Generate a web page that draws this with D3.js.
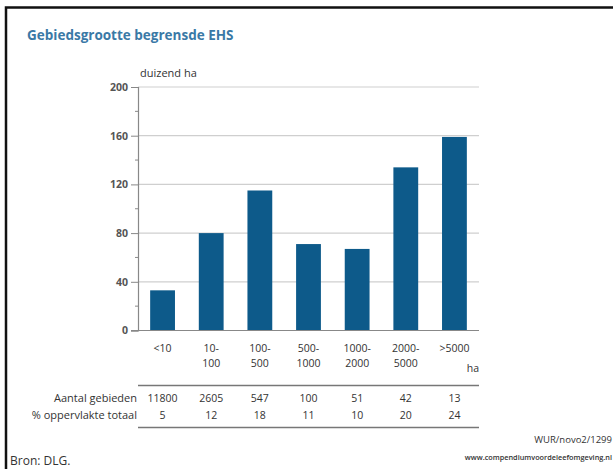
<!DOCTYPE html>
<html>
<head>
<meta charset="utf-8">
<script src="https://cdn.jsdelivr.net/npm/d3@7"></script>
<style>
  html, body { margin: 0; background: #fff; overflow: hidden; }
  svg { display: block; font-family: "Open Sans", sans-serif; }
</style>
</head>
<body>
<svg id="chart" width="613" height="469"></svg>
<script>
// data
const categories = ["<10", "10-100", "100-500", "500-1000", "1000-2000", "2000-5000", ">5000"];
const labelLines = [["<10"], ["10-", "100"], ["100-", "500"], ["500-", "1000"], ["1000-", "2000"], ["2000-", "5000"], [">5000"]];
const areaValues = [33, 80, 115, 71, 67, 134, 159];   // duizend ha
const aantalGebieden = ["11800", "2605", "547", "100", "51", "42", "13"];
const procentOppervlakte = ["5", "12", "18", "11", "10", "20", "24"];
const yTicks = [0, 40, 80, 120, 160, 200];

const svg = d3.select("#chart");

const plotLeft = 138, plotRight = 479, plotTop = 87, plotBottom = 330.5;

const x = d3.scaleBand()
    .domain(categories)
    .range([plotLeft, plotRight])
    .paddingInner(0.49)
    .paddingOuter(0.25);

const y = d3.scaleLinear()
    .domain([0, 200])
    .range([plotBottom, plotTop]);

// frame (top and left only)
svg.append("path")
    .attr("d", "M6,614V7.5H613")
    .attr("fill", "none")
    .attr("stroke", "#111")
    .attr("stroke-width", 2.5);

svg.append("text")
    .attr("x", 27)
    .attr("y", 40)
    .attr("fill", "#3a79a6")
    .attr("font-size", 13.5)
    .attr("font-weight", "bold")
    .text("Gebiedsgrootte begrensde EHS");

svg.append("text")
    .attr("x", 140)
    .attr("y", 77)
    .attr("fill", "#333")
    .attr("font-size", 11)
    .text("duizend ha");

// gridlines
svg.append("g")
    .selectAll("line")
    .data(yTicks.filter(d => d > 0))
    .join("line")
    .attr("x1", plotLeft)
    .attr("x2", plotRight)
    .attr("y1", d => y(d))
    .attr("y2", d => y(d))
    .attr("stroke", "#cfcfcf")
    .attr("stroke-width", 1.2);

// y axis with minor ticks
const yAxis = svg.append("g")
    .attr("transform", `translate(${plotLeft},0)`)
    .call(d3.axisLeft(y).tickValues(yTicks).tickSize(7).tickPadding(3));
yAxis.select(".domain").attr("stroke", "#888").attr("stroke-width", 1.2);
yAxis.selectAll(".tick line").attr("stroke", "#888");
yAxis.selectAll(".tick text")
    .attr("font-size", 10.5)
    .attr("font-weight", "bold")
    .attr("fill", "#555")
    .attr("font-family", "Open Sans, sans-serif");

svg.append("g")
    .selectAll("line")
    .data([20, 60, 100, 140, 180])
    .join("line")
    .attr("x1", plotLeft - 3)
    .attr("x2", plotLeft)
    .attr("y1", d => y(d))
    .attr("y2", d => y(d))
    .attr("stroke", "#888");

// bars
svg.append("g")
    .selectAll("rect")
    .data(areaValues)
    .join("rect")
    .attr("x", (d, i) => x(categories[i]))
    .attr("y", d => y(d))
    .attr("width", x.bandwidth())
    .attr("height", d => y(0) - y(d))
    .attr("fill", "#0d5a8a");

// baseline
svg.append("line")
    .attr("x1", plotLeft - 7)
    .attr("x2", plotRight)
    .attr("y1", y(0))
    .attr("y2", y(0))
    .attr("stroke", "#888")
    .attr("stroke-width", 1.2);

// category labels
const cx = (i) => x(categories[i]) + x.bandwidth() / 2;
svg.append("g")
    .selectAll("text")
    .data(labelLines)
    .join("text")
    .attr("x", (d, i) => cx(i))
    .attr("y", 352)
    .attr("text-anchor", "middle")
    .attr("font-size", 10.5)
    .attr("fill", "#333")
    .selectAll("tspan")
    .data(d => d)
    .join("tspan")
    .attr("x", function () { return this.parentNode.getAttribute("x"); })
    .attr("dy", (d, i) => i === 0 ? 0 : 15)
    .text(d => d);

svg.append("text")
    .attr("x", 473)
    .attr("y", 372)
    .attr("text-anchor", "middle")
    .attr("font-size", 10.5)
    .attr("fill", "#333")
    .text("ha");

// table
svg.append("g")
    .selectAll("line")
    .data([385.5, 427.5])
    .join("line")
    .attr("x1", plotLeft)
    .attr("x2", plotRight)
    .attr("y1", d => d)
    .attr("y2", d => d)
    .attr("stroke", "#777")
    .attr("stroke-width", 1.5);

const rows = [
    { label: "Aantal gebieden", values: aantalGebieden, y: 402 },
    { label: "% oppervlakte totaal", values: procentOppervlakte, y: 419 }
];

const row = svg.append("g")
    .selectAll("g")
    .data(rows)
    .join("g");

row.append("text")
    .attr("x", 137)
    .attr("y", d => d.y)
    .attr("text-anchor", "end")
    .attr("font-size", 11)
    .attr("fill", "#333")
    .text(d => d.label);

row.selectAll(".val")
    .data(d => d.values.map(v => ({ v, y: d.y })))
    .join("text")
    .attr("class", "val")
    .attr("x", (d, i) => cx(i))
    .attr("y", d => d.y)
    .attr("text-anchor", "middle")
    .attr("font-size", 10.5)
    .attr("fill", "#333")
    .text(d => d.v);

// source and credits
svg.append("text")
    .attr("x", 10)
    .attr("y", 465)
    .attr("font-size", 12)
    .attr("fill", "#333")
    .text("Bron: DLG.");

svg.append("text")
    .attr("x", 612)
    .attr("y", 443)
    .attr("text-anchor", "end")
    .attr("font-size", 9.5)
    .attr("fill", "#333")
    .text("WUR/novo2/1299");

svg.append("text")
    .attr("x", 612)
    .attr("y", 460)
    .attr("text-anchor", "end")
    .attr("font-size", 7.3)
    .attr("font-weight", "600")
    .attr("fill", "#333")
    .text("www.compendiumvoordeleefomgeving.nl");
</script>
</body>
</html>
